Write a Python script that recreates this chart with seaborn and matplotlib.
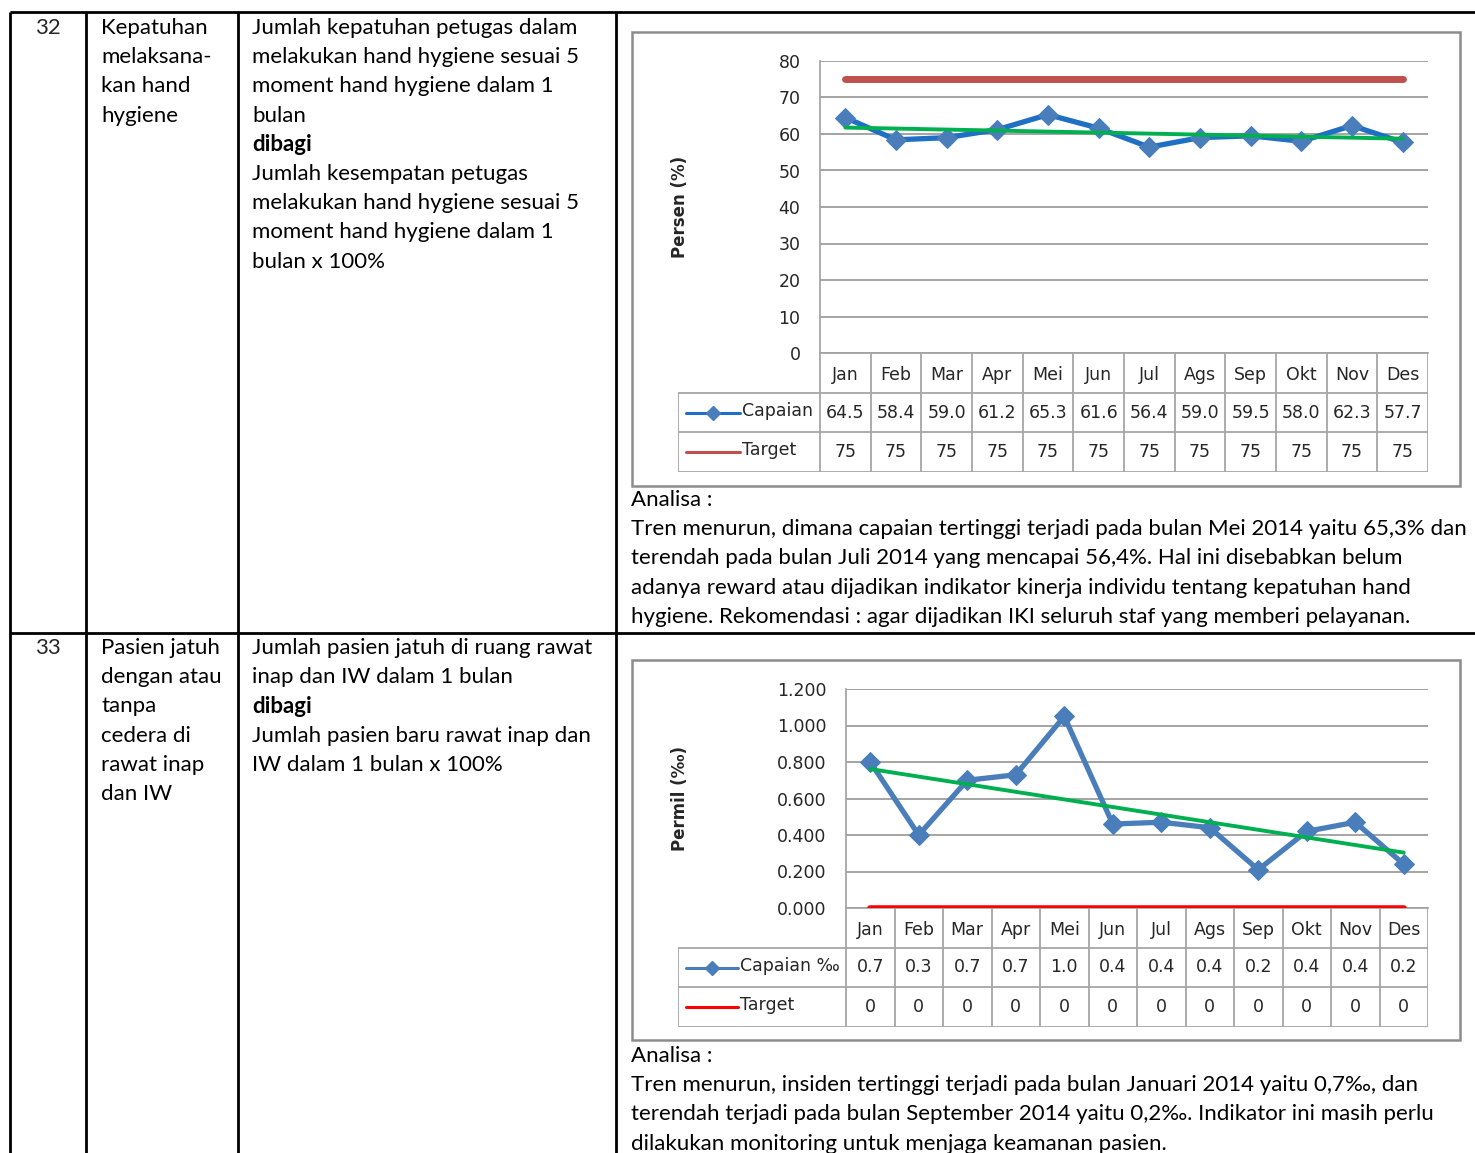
import numpy as np
import pandas as pd
import seaborn as sns
import matplotlib.pyplot as plt
from matplotlib.patches import Rectangle

sns.set_theme(style="white")
plt.rcParams["font.family"] = ["Lato", "DejaVu Sans"]

W, H = 1475, 1153

# ---- data ----
bulan = ["Jan", "Feb", "Mar", "Apr", "Mei", "Jun", "Jul", "Ags", "Sep", "Okt", "Nov", "Des"]

capaian_hh = [64.5, 58.4, 59.0, 61.2, 65.3, 61.6, 56.4, 59.0, 59.5, 58.0, 62.3, 57.7]
capaian_hh_label = ["64.5", "58.4", "59.0", "61.2", "65.3", "61.6", "56.4", "59.0", "59.5", "58.0", "62.3", "57.7"]
target_hh = [75] * 12
target_hh_label = ["75"] * 12

capaian_jatuh = [0.80, 0.40, 0.70, 0.73, 1.05, 0.46, 0.47, 0.44, 0.21, 0.42, 0.47, 0.24]
capaian_jatuh_label = ["0.7", "0.3", "0.7", "0.7", "1.0", "0.4", "0.4", "0.4", "0.2", "0.4", "0.4", "0.2"]
target_jatuh = [0] * 12
target_jatuh_label = ["0"] * 12

yticks_hh = [0, 10, 20, 30, 40, 50, 60, 70, 80]
yticks_jatuh = [0.0, 0.2, 0.4, 0.6, 0.8, 1.0, 1.2]

row1_no = "32"
row1_col2 = ["Kepatuhan", "melaksana-", "kan hand", "hygiene"]
row1_col3 = ["Jumlah kepatuhan petugas dalam", "melakukan hand hygiene sesuai 5",
             "moment hand hygiene dalam 1", "bulan", "dibagi", "Jumlah kesempatan petugas",
             "melakukan hand hygiene sesuai 5", "moment hand hygiene dalam 1", "bulan x 100%"]
row2_no = "33"
row2_col2 = ["Pasien jatuh", "dengan atau", "tanpa", "cedera di", "rawat inap", "dan IW"]
row2_col3 = ["Jumlah pasien jatuh di ruang rawat", "inap dan IW dalam 1 bulan", "dibagi",
             "Jumlah pasien baru rawat inap dan", "IW dalam 1 bulan x 100%"]

analisa1 = ["Analisa :",
            "Tren menurun, dimana capaian tertinggi terjadi pada bulan Mei 2014 yaitu 65,3% dan",
            "terendah pada bulan Juli 2014 yang mencapai 56,4%. Hal ini disebabkan belum",
            "adanya reward atau dijadikan indikator kinerja individu tentang kepatuhan hand",
            "hygiene. Rekomendasi : agar dijadikan IKI seluruh staf yang memberi pelayanan."]
analisa2 = ["Analisa :",
            "Tren menurun, insiden tertinggi terjadi pada bulan Januari 2014 yaitu 0,7\u2030, dan",
            "terendah terjadi pada bulan September 2014 yaitu 0,2\u2030. Indikator ini masih perlu",
            "dilakukan monitoring untuk menjaga keamanan pasien."]

CHART_FONT = ["DejaVu Sans"]
LINE_H = 29.2


def box(x0, y0, x1, y1):
    return [x0 / W, 1 - y1 / H, (x1 - x0) / W, (y1 - y0) / H]


def ftext(fig, x, y, s, **kw):
    fig.text(x / W, 1 - y / H, s, va="center", ha=kw.pop("ha", "left"), **kw)


def text_lines(fig, x, y0, lines, size=16, bold_idx=(), step=LINE_H):
    for i, s in enumerate(lines):
        ftext(fig, x, y0 + i * step, s, fontsize=size, color="black",
              fontweight="bold" if i in bold_idx else "normal")


def draw_chart(fig, frame, plot, table_left, table_bottom, yticks, yfmt, ylabel,
               cap, cap_lbl, cap_name, cap_color, tgt, tgt_lbl, tgt_color, tgt_lw):
    fx0, fy0, fx1, fy1 = frame
    fig.add_artist(Rectangle((fx0 / W, 1 - fy1 / H), (fx1 - fx0) / W, (fy1 - fy0) / H,
                             transform=fig.transFigure, fill=False, ec="#8c8c8c", lw=1.8))
    px0, py0, px1, py1 = plot
    idx = np.arange(len(bulan))

    ax = fig.add_axes(box(px0, py0, px1, py1))
    sns.lineplot(x=idx, y=cap, ax=ax, color=cap_color, lw=3.8, marker="D", markersize=10,
                 markerfacecolor="#4a7ebb", markeredgecolor="#4a7ebb", zorder=3)
    sns.lineplot(x=idx, y=tgt, ax=ax, color=tgt_color, lw=tgt_lw, zorder=4,
                 solid_capstyle="round")
    sns.regplot(x=idx, y=cap, ax=ax, scatter=False, ci=None, truncate=True,
                line_kws=dict(color="#00b050", lw=2.8, zorder=5))
    ax.set_xlim(-0.5, 11.5)
    ax.set_ylim(yticks[0], yticks[-1])
    ax.set_yticks(yticks)
    ax.set_yticklabels([yfmt(v) for v in yticks], fontsize=12.5, family=CHART_FONT)
    ax.set_xticks([])
    ax.set_xlabel("")
    ax.set_ylabel("")
    ax.yaxis.grid(True, color="#8c8c8c", lw=1.1)
    ax.tick_params(axis="y", length=0, pad=14)
    for side in ["top", "right"]:
        ax.spines[side].set_visible(False)
    for side in ["left", "bottom"]:
        ax.spines[side].set_color("#a0a0a0")
        ax.spines[side].set_linewidth(1.2)
    ax.set_facecolor("none")

    # y label
    fig.text(680 / W, 1 - (py0 + py1) / 2 / H, ylabel, rotation=90, ha="center", va="center",
             fontsize=12, fontweight="bold", family=CHART_FONT)

    # data table under the plot
    cw = (px1 - px0) / 12
    lw_cells = (px0 - table_left) / cw
    xl = -0.5 - lw_cells
    tax = fig.add_axes(box(table_left, py1, px1, table_bottom))
    tax.set_xlim(xl, 11.5)
    tax.set_ylim(3, 0)
    tax.axis("off")
    gc = "#a6a6a6"
    tax.vlines(np.arange(-0.5, 12.5, 1), 0, 3, color=gc, lw=1.3)
    tax.vlines(xl, 1, 3, color=gc, lw=1.3)
    tax.hlines([1, 2, 3], xl, 11.5, color=gc, lw=1.3)
    for i in idx:
        tax.text(i, 0.55, bulan[i], ha="center", va="center", fontsize=12.5, family=CHART_FONT)
        tax.text(i, 1.5, cap_lbl[i], ha="center", va="center", fontsize=12.5, family=CHART_FONT)
        tax.text(i, 2.5, tgt_lbl[i], ha="center", va="center", fontsize=12.5, family=CHART_FONT)
    # legend keys inside the label column
    k0, k1 = xl + 0.16, xl + 1.23
    tax.plot([k0, k1], [1.5, 1.5], color=cap_color, lw=2.2)
    tax.plot([(k0 + k1) / 2], [1.5], marker="D", ms=7, color="#4a7ebb")
    tax.plot([k0, k1], [2.5, 2.5], color=tgt_color, lw=2.2)
    tax.text(k1 + 0.04, 1.45, cap_name, ha="left", va="center", fontsize=12.5, family=CHART_FONT)
    tax.text(k1 + 0.04, 2.45, "Target", ha="left", va="center", fontsize=12.5, family=CHART_FONT)


fig = plt.figure(figsize=(W / 100, H / 100), dpi=100)
fig.patch.set_facecolor("white")

# outer table grid
grid = fig.add_axes([0, 0, 1, 1])
grid.set_xlim(0, W)
grid.set_ylim(H, 0)
grid.axis("off")
grid.hlines([12, 633], 10, W, color="black", lw=2)
grid.vlines([10, 86, 238, 616], 12, H, color="black", lw=2)

# left text columns
ftext(fig, 48, 28, row1_no, fontsize=16, ha="center")
text_lines(fig, 101, 28, row1_col2)
text_lines(fig, 252, 28, row1_col3, bold_idx=(4,))
ftext(fig, 48, 648, row2_no, fontsize=16, ha="center")
text_lines(fig, 101, 648, row2_col2)
text_lines(fig, 252, 648, row2_col3, bold_idx=(2,))

# charts
draw_chart(fig, (632, 32, 1460, 486), (820, 61, 1428, 353), 678, 472,
           yticks_hh, lambda v: f"{v:.0f}", "Persen (%)",
           capaian_hh, capaian_hh_label, "Capaian", "#1f6fc4",
           target_hh, target_hh_label, "#c0504d", 5)
draw_chart(fig, (632, 660, 1460, 1040), (846, 689, 1428, 908), 678, 1027,
           yticks_jatuh, lambda v: f"{v:.3f}", "Permil (\u2030)",
           capaian_jatuh, capaian_jatuh_label, "Capaian \u2030", "#4a7ebb",
           target_jatuh, target_jatuh_label, "#ff0000", 4)

# analysis paragraphs
text_lines(fig, 631, 500, analisa1, size=16)
text_lines(fig, 631, 1056, analisa2, size=16)

fig.savefig("out.png", dpi=100)
